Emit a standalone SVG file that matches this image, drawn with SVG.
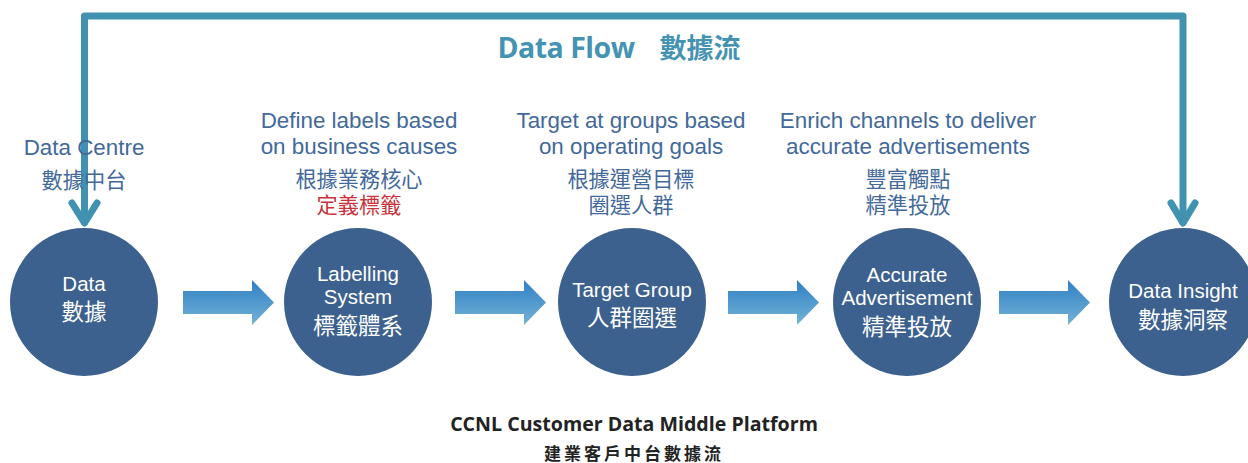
<svg xmlns="http://www.w3.org/2000/svg" width="1248" height="463" viewBox="0 0 1248 463">
<defs>
<linearGradient id="ag" x1="0" y1="0" x2="0" y2="1">
<stop offset="0" stop-color="#2f7fc4"/>
<stop offset="1" stop-color="#74b4d6"/>
</linearGradient>
<style>
.node{fill:#3d618e}
.nt{font-family:"Liberation Sans","Noto Sans CJK TC",sans-serif;fill:#ffffff;text-anchor:middle;font-size:20.5px}
.nc{font-family:"Noto Sans CJK TC",sans-serif;fill:#ffffff;text-anchor:middle;font-size:22.5px}
.lb{font-family:"Liberation Sans","Noto Sans CJK TC",sans-serif;fill:#42699a;text-anchor:middle;font-size:22.4px}
.lc{font-family:"Noto Sans CJK TC",sans-serif;fill:#42699a;text-anchor:middle;font-size:21.2px}
.red{fill:#c9323c}
.loop{fill:none;stroke:#4191b0;stroke-width:7;stroke-linejoin:round;stroke-linecap:round}
.blk{fill:url(#ag)}
</style>
</defs>
<rect width="1248" height="463" fill="#ffffff"/>
<g id="connectors">
<path class="loop" d="M84.5,222 V16 H1183 V222"/>
<path class="loop" d="M72,203 L84.5,223 L97,203"/>
<path class="loop" d="M1171,203 L1183,223 L1195,203"/>
<path class="blk" d="M183,291 H252 V280 L274,302.5 L252,325 V314 H183 Z"/>
<path class="blk" d="M455,291 H524 V280 L546,302.5 L524,325 V314 H455 Z"/>
<path class="blk" d="M728,291 H797 V280 L819,302.5 L797,325 V314 H728 Z"/>
<path class="blk" d="M999,291 H1068 V280 L1090,302.5 L1068,325 V314 H999 Z"/>
</g>
<g id="title">
<text x="566" y="58" font-family="'Open Sans','Liberation Sans',sans-serif" font-weight="bold" font-size="28.5" fill="#4593b2" text-anchor="middle" letter-spacing="-0.5">Data Flow</text>
<text x="700" y="58" font-family="'Noto Sans CJK TC',sans-serif" font-weight="bold" font-size="27" fill="#4593b2" text-anchor="middle">數據流</text>
</g>
<g id="node-data">
<circle class="node" cx="84" cy="302" r="74"/>
<text class="nt" x="84" y="291">Data</text>
<text class="nc" x="84" y="320">數據</text>
<text class="lb" x="84" y="155">Data Centre</text>
<text class="lc" x="84" y="188">數據中台</text>
</g>
<g id="node-labelling">
<circle class="node" cx="358" cy="302" r="74"/>
<text class="nt" x="358" y="281">Labelling</text>
<text class="nt" x="358" y="304">System</text>
<text class="nc" x="358" y="334">標籤體系</text>
<text class="lb" x="359" y="128">Define labels based</text>
<text class="lb" x="359" y="154">on business causes</text>
<text class="lc" x="359" y="187">根據業務核心<tspan class="red" x="359" dy="26">定義標籤</tspan></text>
</g>
<g id="node-target">
<circle class="node" cx="632" cy="302" r="74"/>
<text class="nt" x="632" y="297">Target Group</text>
<text class="nc" x="632" y="326">人群圈選</text>
<text class="lb" x="631" y="128">Target at groups based</text>
<text class="lb" x="631" y="154">on operating goals</text>
<text class="lc" x="631" y="187">根據運營目標<tspan x="631" dy="26">圈選人群</tspan></text>
</g>
<g id="node-accurate">
<circle class="node" cx="907" cy="302" r="74"/>
<text class="nt" x="907" y="282">Accurate</text>
<text class="nt" x="907" y="305">Advertisement</text>
<text class="nc" x="907" y="335">精準投放</text>
<text class="lb" x="908" y="128">Enrich channels to deliver</text>
<text class="lb" x="908" y="154">accurate advertisements</text>
<text class="lc" x="908" y="187">豐富觸點<tspan x="908" dy="26">精準投放</tspan></text>
</g>
<g id="node-insight">
<circle class="node" cx="1183" cy="302" r="74"/>
<text class="nt" x="1183" y="298">Data Insight</text>
<text class="nc" x="1183" y="328">數據洞察</text>
</g>
<g id="caption">
<text x="634" y="431" font-family="'Open Sans','Liberation Sans',sans-serif" font-weight="bold" font-size="19.6" fill="#222222" text-anchor="middle">CCNL Customer Data Middle Platform</text>
<text x="634" y="460" font-family="'Noto Sans CJK TC',sans-serif" font-weight="bold" font-size="17" fill="#222222" text-anchor="middle" letter-spacing="3">建業客戶中台數據流</text>
</g>
</svg>
